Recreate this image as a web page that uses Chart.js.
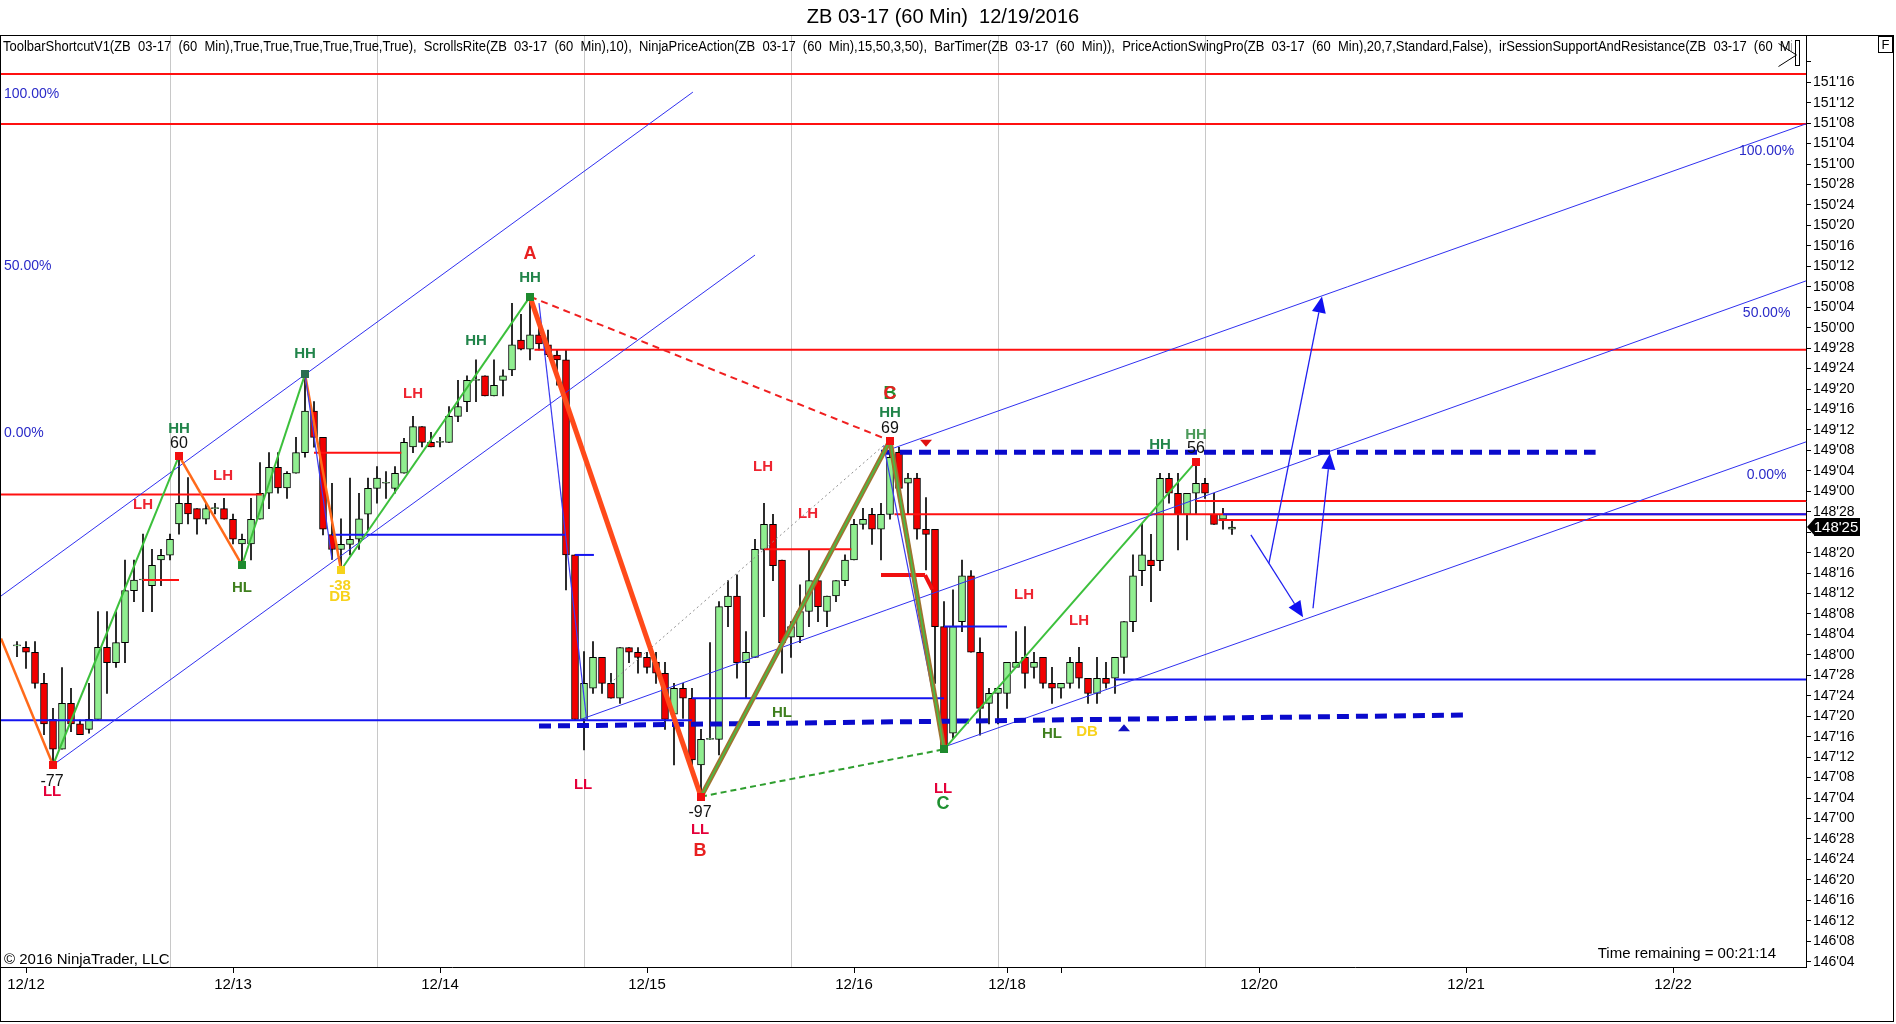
<!DOCTYPE html>
<html><head><meta charset="utf-8">
<script src="https://cdn.jsdelivr.net/npm/chart.js@4.4.0/dist/chart.umd.min.js"></script>
<style>
html,body{margin:0;padding:0;background:#fff;overflow:hidden}
canvas{display:block}
</style></head><body>
<canvas id="c" width="1896" height="1024"></canvas>
<script>
// ---------- DATA (hourly bars, ZB 03-17) ----------
const opens = [148.055,148.046,148.016,147.826,147.606,147.423,147.704,147.578,147.545,147.606,
148.046,147.953,148.075,148.393,148.458,148.423,148.580,148.609,148.800,148.927,
148.894,148.829,148.894,148.894,148.829,148.678,148.678,148.829,148.988,149.147,
149.020,149.110,149.236,149.491,149.330,148.735,148.644,148.676,148.707,148.860,
149.018,149.049,149.018,149.110,149.271,149.395,149.299,149.299,149.299,149.458,
149.548,149.678,149.706,149.583,149.678,149.742,149.925,149.868,149.956,149.895,
149.833,149.803,148.611,147.605,147.796,147.985,147.826,147.735,148.044,148.016,
147.985,147.955,147.888,147.637,147.796,147.735,147.327,147.484,147.484,148.295,
148.360,147.953,147.985,148.645,148.798,148.580,148.108,148.112,148.265,148.454,
148.265,148.360,148.454,148.580,148.798,148.859,148.768,148.859,149.238,149.049,
149.080,148.768,148.768,148.173,147.521,148.203,148.484,148.016,147.704,147.765,
147.765,147.924,147.985,147.924,147.985,147.826,147.796,147.826,147.955,147.857,
147.765,147.857,147.857,147.985,148.203,148.515,148.580,148.576,149.079,148.988,
148.859,148.988,149.049,148.859,148.829,148.768];
const highs = [148.081,148.081,148.081,147.887,147.674,147.923,147.796,147.602,147.826,148.264,
148.264,148.264,148.580,148.580,148.738,148.645,148.645,148.738,149.216,149.084,
148.894,148.927,148.927,148.957,148.861,148.738,148.957,149.175,149.236,149.236,
149.120,149.330,149.715,149.548,149.330,149.049,148.832,149.080,148.988,149.080,
149.151,149.120,149.151,149.324,149.458,149.395,149.361,149.330,149.518,149.678,
149.706,149.803,149.706,149.803,149.742,150.149,150.082,150.190,150.017,149.986,
149.864,149.864,148.611,148.020,148.081,147.985,147.888,148.044,148.044,148.044,
148.016,148.016,147.955,147.826,147.826,147.796,147.545,148.075,148.326,148.454,
148.489,148.142,148.707,148.927,148.859,148.580,148.203,148.428,148.645,148.485,
148.360,148.454,148.611,148.829,148.896,148.896,148.927,149.310,149.269,149.110,
149.110,148.961,148.768,148.326,148.397,148.580,148.515,148.105,147.796,147.796,
147.955,148.142,148.173,148.016,147.985,147.924,147.826,147.985,148.046,147.857,
147.985,147.955,147.985,148.203,148.611,148.804,148.737,149.110,149.110,149.110,
148.988,149.181,149.079,148.988,148.896,148.829];
const lows = [147.989,147.918,147.796,147.513,147.327,147.423,147.531,147.513,147.521,147.602,
147.765,147.923,147.953,148.326,148.264,148.264,148.423,148.580,148.738,148.800,
148.738,148.800,148.861,148.829,148.678,148.548,148.580,148.829,148.894,148.988,
148.957,149.110,149.208,149.269,148.733,148.584,148.519,148.611,148.644,148.764,
148.927,148.957,148.988,149.110,149.236,149.271,149.271,149.271,149.299,149.426,
149.487,149.548,149.583,149.583,149.583,149.706,149.864,149.803,149.864,149.823,
149.648,148.397,147.605,147.419,147.765,147.765,147.735,147.704,147.953,147.888,
147.888,147.826,147.545,147.327,147.612,147.327,147.134,147.484,147.388,148.173,
147.857,147.735,147.985,148.234,148.454,147.888,147.985,148.075,148.173,148.203,
148.173,148.326,148.423,148.580,148.768,148.676,148.580,148.829,148.992,148.859,
148.707,148.519,147.826,147.423,147.490,148.142,148.016,147.510,147.578,147.578,
147.673,147.924,147.796,147.857,147.796,147.704,147.735,147.796,147.796,147.704,
147.704,147.796,147.765,147.887,148.142,148.423,148.326,148.515,148.927,148.641,
148.702,148.859,148.957,148.798,148.768,148.737];
const closes = [148.055,148.016,147.826,147.578,147.423,147.704,147.578,147.513,147.606,148.046,
147.953,148.075,148.393,148.458,148.458,148.548,148.609,148.707,148.927,148.861,
148.829,148.894,148.894,148.829,148.707,148.707,148.829,148.988,149.147,149.020,
149.110,149.236,149.491,149.330,148.768,148.644,148.676,148.707,148.832,149.018,
149.080,149.049,149.110,149.299,149.395,149.299,149.271,149.299,149.458,149.518,
149.678,149.678,149.583,149.648,149.706,149.895,149.868,149.956,149.901,149.833,
149.803,148.611,147.605,147.826,147.985,147.826,147.735,148.044,148.016,147.985,
147.924,147.888,147.606,147.796,147.735,147.358,147.484,147.484,148.295,148.360,
147.953,148.016,148.645,148.798,148.546,148.075,148.173,148.265,148.454,148.295,
148.360,148.454,148.580,148.798,148.829,148.768,148.859,149.208,149.018,149.080,
148.768,148.737,148.173,147.439,148.173,148.484,148.016,147.673,147.765,147.796,
147.955,147.955,147.887,147.955,147.826,147.796,147.826,147.955,147.857,147.765,
147.857,147.826,147.985,148.203,148.484,148.611,148.545,149.079,148.988,148.859,
148.988,149.049,148.988,148.798,148.859,148.781];

// x axis: bar numbers of date ticks and session starts
const xTickBars   = [1, 24, 47, 70, 93, 110, 116, 138, 161, 184];
const xTickLabels = ['12/12','12/13','12/14','12/15','12/16','12/18','','12/20','12/21','12/22'];
const sessionStartBars = [17, 40, 63, 86, 109, 132];

// y axis tick labels (price in 32nds)
const yTickLabels = ["146'04","146'08","146'12","146'16","146'20","146'24","146'28","147'00","147'04","147'08",
"147'12","147'16","147'20","147'24","147'28","148'00","148'04","148'08","148'12","148'16","148'20","148'24",
"148'28","149'00","149'04","149'08","149'12","149'16","149'20","149'24","149'28","150'00","150'04","150'08",
"150'12","150'16","150'20","150'24","150'28","151'00","151'04","151'08","151'12","151'16","151'20"];
const yHiddenLabels = ["151'20"];

// drawing objects, in (bar, price)
const kMin = -16/9, kMax = 1789/9;
const redFullLines  = [[kMin,151.55,kMax,151.55],[kMin,151.245,kMax,151.245]];
const redLevelLines = [[57.5,149.865,kMax,149.865],[131,148.94,kMax,148.94],[97.5,148.859,kMax,148.859],
  [133.5,148.825,kMax,148.825],[kMin,148.98,27.2,148.98],[14,148.458,18,148.458],[33,149.236,42.7,149.236],
  [83,148.645,92.7,148.645]];
const redThickLines = [[96,148.488,100.9,148.488],[100.9,148.488,101.7,148.40]];
const blueLevelLines = [[kMin,147.6,75,147.6],[35,148.735,61,148.735],[62,148.611,64.1,148.611],
  [75,147.735,103,147.735],[103,148.173,110,148.173],[122,147.85,kMax,147.85],[134,148.859,kMax,148.859]];
const blueDashedLines = [[96,149.238,175.4,149.238],[58,147.565,160.7,147.632]];
const channelLines = [[kMin,148.36,75.1,151.44],[4,147.327,82,150.444],[96.9,149.254,kMax,151.246],
  [62.6,147.605,kMax,150.286],[102.9,147.435,kMax,149.302]];
const orangeSwings = [[kMin,148.10,4,147.327],[18,149.216,25,148.548],[32,149.715,36,148.519]];
const greenSwings  = [[4,147.327,18,149.216],[25,148.548,32,149.715],[36,148.519,57,150.19],[103,147.423,131,149.181]];
const blueSwings   = [[32,149.715,35,148.584],[58,150.15,63.3,147.6],[96.3,149.28,103,147.42]];
const redDashSwing = [[57,150.19,97,149.31]];
const greenDashSwing = [[76,147.134,103,147.423]];
const abLeg  = [[57,150.19,76,147.134]];
const bcLegs = [[76,147.134,97,149.31],[97,149.31,103,147.423]];
const grayDotted = [[65.9,147.826,96.3,149.28]];
const arrows = [[137.1,148.733,142.9,148.23],[139.1,148.56,145.0,150.19],[144.0,148.285,145.9,149.232]];
const swingDots = [[4,147.327,'r'],[18,149.216,'r'],[25,148.548,'g'],[32,149.715,'t'],[36,148.519,'y'],
  [57,150.19,'g'],[76,147.134,'r'],[97,149.31,'r'],[103,147.423,'g'],[131,149.181,'r']];
const triMarks = [[101,149.29,'down'],[123,147.557,'up']];
const swingLabels = [
  ['-77',3.9,147.225,'num'],['LL',3.9,147.16,'ll'],['HH',18,149.379,'hh'],['60',18,149.293,'num'],
  ['LH',14,148.916,'lh'],['LH',22.9,149.093,'lh'],['HL',25,148.407,'hl'],['HH',32,149.843,'hh'],
  ['LH',44,149.593,'lh'],['-38',35.9,148.421,'db'],['DB',35.9,148.356,'db'],['HH',51,149.919,'hh'],
  ['A',57,150.451,'ar'],['HH',57,150.302,'hh'],['LL',62.9,147.205,'ll'],['-97',75.9,147.035,'num'],
  ['LL',75.9,146.928,'ll'],['B',75.9,146.80,'ar'],['HL',85,147.647,'hl'],['LH',82.9,149.147,'lh'],
  ['LH',87.9,148.86,'lh'],['B',97,149.595,'ag'],['C',97,149.595,'ar'],['HH',97,149.48,'hh'],['69',97,149.385,'num'],
  ['LL',102.9,147.179,'ll'],['C',102.9,147.09,'ag'],['LH',111.9,148.37,'lh'],['LH',118,148.209,'lh'],
  ['HL',115,147.52,'hl'],['DB',118.9,147.53,'db'],['HH',127,149.283,'hh'],['HH',131,149.344,'hh2'],['56',131,149.263,'num']];
const fibLabelsLeft  = [['100.00%',151.426],['50.00%',150.377],['0.00%',149.355]];
const fibLabelsRight = [['100.00%',151.079],['50.00%',150.089],['0.00%',149.10]];

const titleText = 'ZB 03-17 (60 Min)  12/19/2016';
const headerText = 'ToolbarShortcutV1(ZB  03-17  (60  Min),True,True,True,True,True,True),  ScrollsRite(ZB  03-17  (60  Min),10),  NinjaPriceAction(ZB  03-17  (60  Min),15,50,3,50),  BarTimer(ZB  03-17  (60  Min)),  PriceActionSwingPro(ZB  03-17  (60  Min),20,7,Standard,False),  irSessionSupportAndResistance(ZB  03-17  (60  Min))';
const copyrightText = '\u00A9 2016 NinjaTrader, LLC';
const timerText = 'Time remaining = 00:21:14';

// ---------- helpers ----------
const parse32 = s => { const [a,b] = s.split("'"); return +a + (+b)/32; };
const fmt32 = v => { const w = Math.floor(v + 1e-9); const t = Math.round((v - w) * 32); return w + "'" + String(t).padStart(2,'0'); };
const yTickValues = yTickLabels.map(parse32);
const NARROW = '"Liberation Sans Narrow","Arial Narrow","Liberation Sans",Arial,sans-serif';
const SANS = '"Liberation Sans",Arial,sans-serif';

const idx = opens.map((_, i) => i);
const wickData = idx.map(i => ({x: i, y: [lows[i], highs[i]]}));
const bodyData = idx.map(i => ({x: i, y: [opens[i], closes[i]]}));
const bodyColors = idx.map(i => closes[i] >= opens[i] ? '#90EE90' : '#F20000');

function segs(list, style, order) {
  return list.map(s => Object.assign({
    type: 'line', data: [{x: s[0], y: s[1]}, {x: s[2], y: s[3]}],
    pointRadius: 0, pointHitRadius: 0, fill: false, tension: 0, order: order,
    borderCapStyle: 'butt', xAxisID: 'x', yAxisID: 'y'
  }, style));
}

const datasets = [
  {type:'bar', data: bodyData, backgroundColor: bodyColors, borderColor: '#000', borderWidth: 1,
   borderSkipped: false, barThickness: 7, minBarLength: 1, grouped: false, order: 100},
  {type:'bar', data: wickData, backgroundColor: '#000', borderWidth: 0,
   barThickness: 1, minBarLength: 1, grouped: false, order: 101},
  ...segs(redFullLines, {borderColor:'#FF1010', borderWidth:2}, 60),
  ...segs(redLevelLines, {borderColor:'#FF1010', borderWidth:2}, 60),
  ...segs(redThickLines, {borderColor:'#F01010', borderWidth:4}, 59),
  ...segs(blueLevelLines, {borderColor:'#1414F0', borderWidth:2}, 58),
  ...segs(channelLines, {borderColor:'#3030F0', borderWidth:1}, 50),
  ...segs(blueDashedLines, {borderColor:'#0A0ACC', borderWidth:5, borderDash:[12,7]}, 40),
  ...segs(grayDotted, {borderColor:'#909090', borderWidth:1, borderDash:[2,3]}, 35),
  ...segs(orangeSwings, {borderColor:'#FF6A1A', borderWidth:2.5}, 30),
  ...segs(greenSwings, {borderColor:'#3CC03C', borderWidth:2}, 30),
  ...segs(blueSwings, {borderColor:'#3A3AF0', borderWidth:1.2}, 29),
  ...segs(redDashSwing, {borderColor:'#F02020', borderWidth:2, borderDash:[7,5]}, 28),
  ...segs(greenDashSwing, {borderColor:'#2E9E2E', borderWidth:2, borderDash:[6,4]}, 28),
  ...segs(abLeg, {borderColor:'#FF4A1A', borderWidth:5}, 20),
  ...segs(bcLegs, {borderColor:'#9E7430', borderWidth:5}, 16),
  ...segs(bcLegs, {borderColor:'#44C044', borderWidth:1.5}, 15),
];

const labelStyles = {
  hh: ['bold 15px ' + SANS, '#21844A'], hh2: ['bold 15px ' + SANS, '#4C9A5A'],
  hl: ['bold 15px ' + SANS, '#3F7F1E'], lh: ['bold 15px ' + SANS, '#EE2430'],
  ll: ['bold 15px ' + SANS, '#E4003A'], db: ['bold 15px ' + SANS, '#F7D21C'],
  num: ['16px ' + SANS, '#111'], ar: ['bold 18px ' + SANS, '#E82020'], ag: ['bold 18px ' + SANS, '#1E9030']
};
const dotColors = {r:'#F21010', g:'#1E8A2E', t:'#2A6E50', y:'#F5D21A'};

const decor = {
  id: 'decor',
  beforeDraw(chart) {
    const c = chart.ctx; c.save(); c.fillStyle = '#fff'; c.fillRect(0, 0, chart.width, chart.height); c.restore();
  },
  afterDatasetsDraw(chart) {
    const c = chart.ctx, xs = chart.scales.x, ys = chart.scales.y, a = chart.chartArea;
    const X = k => xs.getPixelForValue(k), Y = p => ys.getPixelForValue(p);
    c.save();
    c.beginPath(); c.rect(a.left, a.top, a.right - a.left, a.bottom - a.top); c.clip();
    // arrows
    c.strokeStyle = '#2020F0'; c.fillStyle = '#1010F0'; c.lineWidth = 1.3;
    arrows.forEach(([k1,p1,k2,p2]) => {
      const x1 = X(k1), y1 = Y(p1), x2 = X(k2), y2 = Y(p2);
      const ang = Math.atan2(y2 - y1, x2 - x1), L = 16, W = 7;
      const bx = x2 - L*Math.cos(ang), by = y2 - L*Math.sin(ang);
      c.beginPath(); c.moveTo(x1, y1); c.lineTo(bx, by); c.stroke();
      c.beginPath(); c.moveTo(x2, y2);
      c.lineTo(bx - W*Math.sin(ang), by + W*Math.cos(ang));
      c.lineTo(bx + W*Math.sin(ang), by - W*Math.cos(ang)); c.closePath(); c.fill();
    });
    // triangles
    triMarks.forEach(([k,p,d]) => {
      const x = X(k), y = Y(p);
      c.fillStyle = d === 'down' ? '#E01010' : '#1010C0';
      c.beginPath();
      if (d === 'down') { c.moveTo(x-6, y-4); c.lineTo(x+6, y-4); c.lineTo(x, y+3); }
      else { c.moveTo(x-6, y+4); c.lineTo(x+6, y+4); c.lineTo(x, y-3); }
      c.closePath(); c.fill();
    });
    // swing dots
    swingDots.forEach(([k,p,t]) => {
      c.fillStyle = dotColors[t]; c.fillRect(Math.round(X(k)) - 4, Math.round(Y(p)) - 4, 8, 8);
    });
    // swing labels
    c.textAlign = 'center'; c.textBaseline = 'middle';
    swingLabels.forEach(([t,k,p,s]) => {
      c.font = labelStyles[s][0]; c.fillStyle = labelStyles[s][1]; c.fillText(t, X(k), Y(p));
    });
    // fib labels
    c.font = '14px ' + NARROW; c.fillStyle = '#2A2AC8';
    c.textAlign = 'left';
    fibLabelsLeft.forEach(([t,p]) => c.fillText(t, a.left + 3, Y(p)));
    c.textAlign = 'center';
    fibLabelsRight.forEach(([t,p]) => c.fillText(t, X(194.4), Y(p)));
    // header line
    c.fillStyle = '#000'; c.textAlign = 'left';
    c.font = '14px ' + NARROW;
    const pre = headerText.slice(0, headerText.indexOf('irSession'));
    const s = 1496 / c.measureText(pre).width;
    c.save(); c.beginPath(); c.rect(0, a.top, 1792, 30); c.clip();
    c.translate(3, 47); c.scale(s, 1); c.fillText(headerText, 0, 0); c.restore();
    // copyright / timer
    c.font = '15px ' + NARROW; c.fillStyle = '#000';
    c.textAlign = 'left'; c.fillText(copyrightText, a.left + 3, 960);
    c.textAlign = 'right'; c.fillText(timerText, 1776, 954);
    // play / pause icon
    c.strokeStyle = '#000'; c.lineWidth = 1;
    c.beginPath(); c.moveTo(1778.5, 43.5); c.lineTo(1796.5, 55); c.lineTo(1778.5, 66.5); c.stroke();
    c.strokeRect(1795.5, 40.5, 4, 25);
    c.restore();
  },
  afterDraw(chart) {
    const c = chart.ctx, a = chart.chartArea, ys = chart.scales.y;
    c.save();
    c.strokeStyle = '#000'; c.lineWidth = 1;
    c.strokeRect(0.5, 35.5, 1893, 986);
    c.beginPath(); c.moveTo(a.left, a.top + 0.5); c.lineTo(a.right, a.top + 0.5); c.stroke();
    // F box
    c.strokeRect(1878.5, 36.5, 14, 16);
    c.font = '13px ' + SANS; c.fillStyle = '#000'; c.textAlign = 'center'; c.textBaseline = 'middle';
    c.fillText('F', 1885.5, 45);
    // title
    c.font = '20px ' + SANS; c.fillText(titleText, 943, 17);
    // last price tag
    const last = closes[closes.length - 1], y = Math.round(ys.getPixelForValue(last));
    c.fillStyle = '#000';
    c.beginPath(); c.moveTo(a.right + 1, y); c.lineTo(a.right + 9, y - 9); c.lineTo(1860, y - 9);
    c.lineTo(1860, y + 9); c.lineTo(a.right + 9, y + 9); c.closePath(); c.fill();
    c.fillStyle = '#fff'; c.font = '15px ' + SANS; c.textAlign = 'center';
    c.fillText(fmt32(Math.round(last * 32) / 32), 1836, y + 1);
    c.restore();
  }
};

new Chart(document.getElementById('c'), {
  type: 'bar',
  data: { datasets },
  options: {
    responsive: false, animation: false, devicePixelRatio: 1,
    events: [],
    layout: { padding: { left: 1, right: 2, top: 35, bottom: 2 } },
    plugins: { legend: { display: false }, tooltip: { enabled: false }, title: { display: false } },
    scales: {
      x: {
        type: 'linear', position: 'bottom', min: kMin, max: kMax, offset: false,
        grid: { display: true, drawOnChartArea: false, drawTicks: true, tickLength: 6, tickColor: '#000', offset: false },
        border: { display: true, color: '#000', width: 1 },
        ticks: { autoSkip: false, maxRotation: 0, color: '#000', padding: 3, font: { family: NARROW, size: 15 },
          callback: v => { const i = xTickBars.indexOf(v); return i >= 0 ? xTickLabels[i] : ''; } },
        afterBuildTicks: s => { s.ticks = xTickBars.map(v => ({ value: v })); },
        afterFit: s => { s.height = 55; }
      },
      xg: {
        type: 'linear', position: 'top', min: kMin, max: kMax, offset: false,
        grid: { display: true, drawOnChartArea: true, drawTicks: false, color: '#C8C8C8', lineWidth: 1, offset: false },
        border: { display: false },
        ticks: { display: false },
        afterBuildTicks: s => { s.ticks = sessionStartBars.map(v => ({ value: v })); },
        afterFit: s => { s.height = 0; }
      },
      y: {
        type: 'linear', position: 'right', min: 146.0923, max: 151.789,
        grid: { display: true, drawOnChartArea: false, drawTicks: true, tickLength: 5, tickColor: '#000' },
        border: { display: true, color: '#000', width: 1 },
        ticks: { autoSkip: false, color: '#000', padding: 2, font: { family: SANS, size: 14 },
          callback: v => { const l = fmt32(v); return yHiddenLabels.includes(l) ? '' : l; } },
        afterBuildTicks: s => { s.ticks = yTickValues.map(v => ({ value: v })); },
        afterFit: s => { s.width = 88; }
      }
    }
  },
  plugins: [decor]
});
</script>
</body></html>
